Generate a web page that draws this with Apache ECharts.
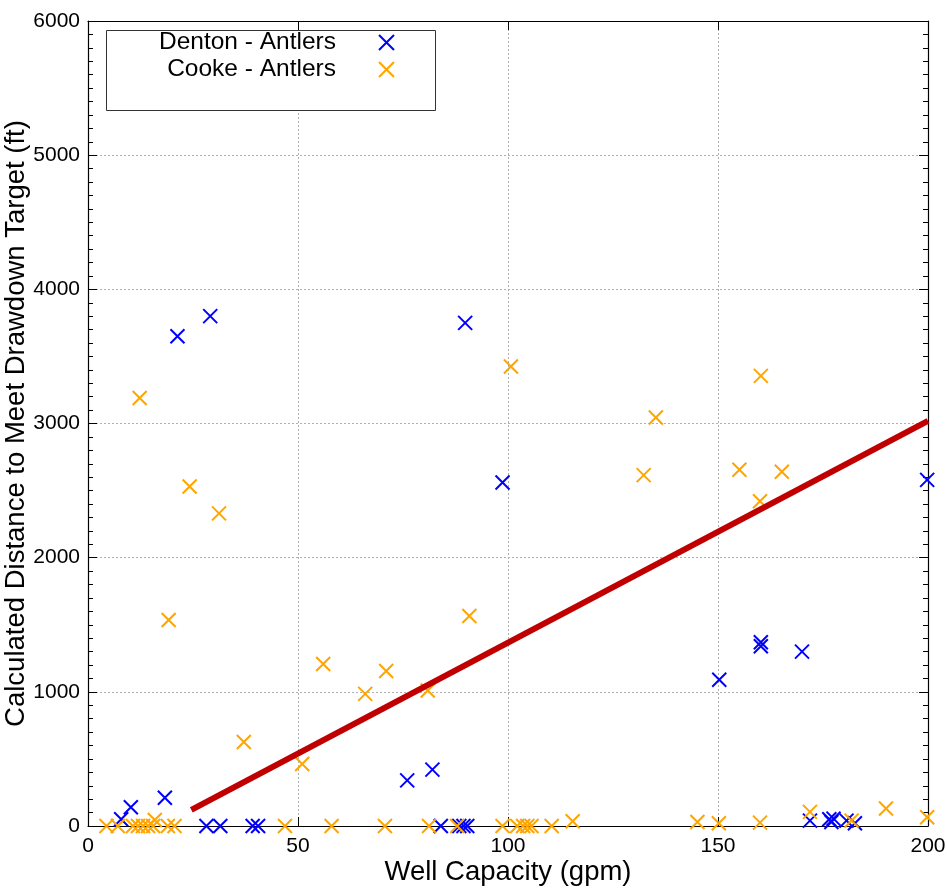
<!DOCTYPE html>
<html>
<head>
<meta charset="utf-8">
<script src="https://cdn.jsdelivr.net/npm/echarts@6/dist/echarts.min.js"></script>
<style>
  html, body { margin: 0; padding: 0; background: #fff; }
  #chart { width: 947px; height: 889px; }
</style>
</head>
<body>
<div id="chart"></div>
<script>
// Well capacity (gpm) vs. distance needed to meet the drawdown target (ft)
const dentonX = [7.9, 10.2, 18.3, 21.3, 29.1, 28.2, 31.5, 39.2, 40.5, 76, 82, 84, 88.4, 89.4, 90.3,
  89.8, 98.7, 150.3, 160.2, 160.2, 170, 199.8, 171.9, 176.5, 177, 177.5, 180.6, 182.6];
const dentonY = [50, 140, 210, 3650, 3800, 0, 0, 0, 0, 340, 420, 0, 0, 0, 0,
  3750, 2560, 1090, 1370, 1340, 1300, 2580, 40, 50, 30, 55, 40, 20];

const cookeX = [12.3, 24.2, 31.2, 19.2, 100.7, 135.2, 132.3, 90.8, 71, 80.9, 160.2, 155.1, 165.2, 160,
  56, 66, 37.1, 51,
  4.4, 7.1, 10.7, 11.9, 13.1, 14.3, 15.5, 15.9, 19, 20.6, 46.9, 58, 70.7, 81.2, 87.9, 98.7,
  102.2, 103.6, 104.6, 105.6, 110.4, 115.4, 145.1, 150.2, 160, 171.9, 181.8, 190, 199.8];
const cookeY = [3190, 2530, 2330, 1535, 3425, 3045, 2615, 1565, 1155, 1010, 3355, 2655, 2640, 2420,
  1207, 985, 626, 462,
  0, 0, 0, 0, 0, 0, 0, 45, 0, 0, 0, 0, 0, 0, 0, 0,
  0, 0, 0, 0, 0, 35, 30, 20, 25, 105, 40, 130, 65];

// trend line end points
const fitX = [24.6, 200];
const fitY = [120, 3020];

const xTicks = [0, 50, 100, 150, 200];
const yTicks = [0, 1000, 2000, 3000, 4000, 5000, 6000];

const seriesNames = ['Denton - Antlers', 'Cooke - Antlers'];

const zip = (xs, ys) => xs.map((x, i) => [x, ys[i]]);
const CROSS = 'path://M0,0L10,10M10,0L0,10';
const FONT = 'Liberation Sans';

const chart = echarts.init(document.getElementById('chart'), null, { renderer: 'canvas' });

const gridLine = { show: true, lineStyle: { color: '#b0b0b0', type: [2, 2], width: 1 } };
const frameLine = { show: true, onZero: false, lineStyle: { color: '#000', width: 1.2 } };

const xBase = {
  type: 'value', min: xTicks[0], max: xTicks[xTicks.length - 1], interval: 50,
  axisLine: frameLine,
  axisTick: { show: true, inside: true, length: 9, lineStyle: { color: '#000' } }
};
const yBase = {
  type: 'value', min: yTicks[0], max: yTicks[yTicks.length - 1], interval: 1000,
  axisLine: frameLine,
  axisTick: { show: true, inside: true, length: 9, lineStyle: { color: '#000' } },
  minorTick: { show: true, splitNumber: 10, length: 5, lineStyle: { color: '#000' } }
};

const legendText = { fontFamily: FONT, fontSize: 24.5, color: '#000', padding: [0, 38, 0, 0] };

chart.setOption({
  animation: false,
  backgroundColor: '#fff',
  textStyle: { fontFamily: FONT },
  grid: { left: 88, right: 19, top: 21, bottom: 63, containLabel: false, outerBoundsMode: 'none' },
  graphic: [{
    type: 'rect', z: 90,
    shape: { x: 106.5, y: 30.5, width: 329, height: 80 },
    style: { fill: '#fff', stroke: '#333', lineWidth: 1 }
  }],
  legend: [
    {
      data: [seriesNames[0]], orient: 'vertical', align: 'right',
      right: 947 - 400, top: 25, itemWidth: 15, itemHeight: 15, z: 100,
      textStyle: legendText, selectedMode: false
    },
    {
      data: [seriesNames[1]], orient: 'vertical', align: 'right',
      right: 947 - 400, top: 52, itemWidth: 15, itemHeight: 15, z: 100,
      textStyle: legendText, selectedMode: false
    }
  ],
  xAxis: [
    Object.assign({}, xBase, {
      position: 'bottom',
      name: 'Well Capacity (gpm)', nameLocation: 'middle', nameGap: 32, nameMoveOverlap: false,
      nameTextStyle: { fontFamily: FONT, fontSize: 27.5, color: '#000' },
      axisLabel: { fontFamily: FONT, fontSize: 21, color: '#000', margin: 10 },
      splitLine: gridLine
    }),
    Object.assign({}, xBase, {
      position: 'top', axisLabel: { show: false }, splitLine: { show: false }
    })
  ],
  yAxis: [
    Object.assign({}, yBase, {
      position: 'left',
      name: 'Calculated Distance to Meet Drawdown Target (ft)', nameLocation: 'middle', nameGap: 58,
      nameMoveOverlap: false,
      nameTextStyle: { fontFamily: FONT, fontSize: 27.5, color: '#000' },
      axisLabel: { fontFamily: FONT, fontSize: 21, color: '#000', margin: 8, formatter: v => String(v) },
      splitLine: gridLine
    }),
    Object.assign({}, yBase, {
      position: 'right', axisLabel: { show: false }, splitLine: { show: false }
    })
  ],
  series: [
    {
      name: seriesNames[0], type: 'scatter', data: zip(dentonX, dentonY),
      symbol: CROSS, symbolSize: 14, clip: false, z: 3,
      itemStyle: { color: 'transparent', borderColor: '#0000ff', borderWidth: 2, opacity: 1 }
    },
    {
      name: seriesNames[1], type: 'scatter', data: zip(cookeX, cookeY),
      symbol: CROSS, symbolSize: 14, clip: false, z: 3,
      itemStyle: { color: 'transparent', borderColor: '#ffa500', borderWidth: 2, opacity: 1 }
    },
    {
      name: 'fit', type: 'line', data: zip(fitX, fitY),
      symbol: 'none', z: 4,
      lineStyle: { color: '#c00000', width: 6 }
    }
  ]
});
</script>
</body>
</html>
